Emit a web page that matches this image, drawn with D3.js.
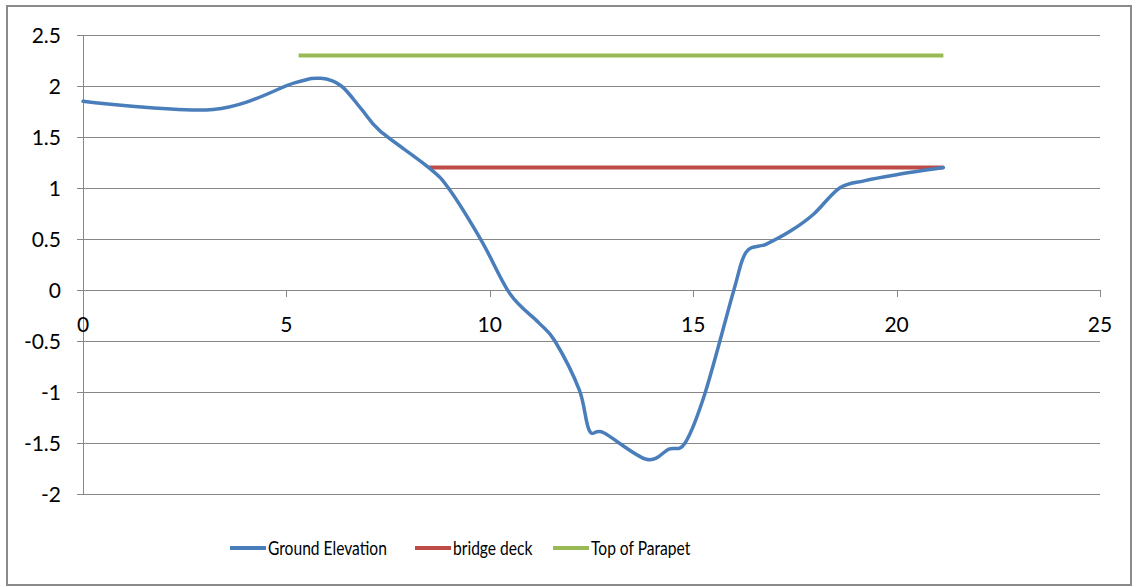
<!DOCTYPE html>
<html>
<head>
<meta charset="utf-8">
<script src="https://cdn.jsdelivr.net/npm/d3@7"></script>
<style>
  html, body { margin: 0; padding: 0; background: #fff; }
  svg text { font-family: Lato, "Open Sans", sans-serif; fill: #000; }
</style>
</head>
<body>
<svg id="chart" width="1139" height="587"></svg>
<script>
// Cross-section survey: distance along section vs elevation
const groundX = [0, 3.2, 5.2, 5.85, 6.35, 6.85, 7.3, 8.5, 9.0, 9.8, 10.5, 11.2, 11.6, 12.2, 12.45, 12.8, 13.85, 14.4, 14.8, 15.3, 16.0, 16.3, 16.8, 17.4, 17.95, 18.6, 19.2, 20.0, 21.15];
const groundY = [1.85, 1.77, 2.03, 2.075, 2.0, 1.77, 1.56, 1.2, 0.99, 0.48, -0.04, -0.32, -0.5, -0.98, -1.38, -1.40, -1.66, -1.56, -1.5, -1.0, 0.0, 0.37, 0.45, 0.58, 0.74, 1.0, 1.07, 1.13, 1.2];
const deckX = [8.5, 21.15];
const deckY = [1.2, 1.2];
const parapetX = [5.3, 21.15];
const parapetY = [2.3, 2.3];

const seriesNames = ["Ground Elevation", "bridge deck", "Top of Parapet"];
const seriesColors = ["#4a7ebb", "#be4b48", "#98b954"];

const xTicks = [0, 5, 10, 15, 20, 25];
const yTicks = [-2, -1.5, -1, -0.5, 0, 0.5, 1, 1.5, 2, 2.5];

const svg = d3.select("#chart");
const W = 1139, H = 587;

// outer chart frame
svg.append("rect")
  .attr("x", 7).attr("y", 6).attr("width", W - 9 - 6).attr("height", H - 8)
  .attr("fill", "#fff").attr("stroke", "#8a8a8a").attr("stroke-width", 2);

const x = d3.scaleLinear().domain([0, 25]).range([83, 1100]);
const y = d3.scaleLinear().domain([-2, 2.5]).range([494, 35]);

// horizontal gridlines (with small outward tick on the value axis)
svg.append("g").selectAll("line").data(yTicks).join("line")
  .attr("x1", x(0) - 6).attr("x2", x(25))
  .attr("y1", d => Math.round(y(d)) + 0.5).attr("y2", d => Math.round(y(d)) + 0.5)
  .attr("stroke", "#878787").attr("stroke-width", 1);

// vertical value axis line
svg.append("line")
  .attr("x1", Math.round(x(0)) + 0.5).attr("x2", Math.round(x(0)) + 0.5)
  .attr("y1", y(2.5)).attr("y2", y(-2))
  .attr("stroke", "#878787");

// category axis ticks hang below the zero line
svg.append("g").selectAll("line").data(xTicks).join("line")
  .attr("x1", d => Math.round(x(d)) + 0.5).attr("x2", d => Math.round(x(d)) + 0.5)
  .attr("y1", y(0)).attr("y2", y(0) + 7)
  .attr("stroke", "#878787");

// y tick labels
svg.append("g").selectAll("text").data(yTicks).join("text")
  .attr("x", 61).attr("y", d => y(d) + 7.5)
  .attr("text-anchor", "end")
  .attr("font-size", 21)
  .text(d => String(d));

// x tick labels
svg.append("g").selectAll("text").data(xTicks).join("text")
  .attr("x", d => x(d)).attr("y", y(0) + 42)
  .attr("text-anchor", "middle")
  .attr("font-size", 21)
  .text(d => String(d));

const line = d3.line()
  .x(d => x(d[0])).y(d => y(d[1]))
  .curve(d3.curveCardinal.tension(0));

const straight = d3.line().x(d => x(d[0])).y(d => y(d[1]));

svg.append("path")
  .datum(parapetX.map((v, i) => [v, parapetY[i]]))
  .attr("d", straight)
  .attr("fill", "none").attr("stroke", seriesColors[2]).attr("stroke-width", 4);

svg.append("path")
  .datum(deckX.map((v, i) => [v, deckY[i]]))
  .attr("d", straight)
  .attr("fill", "none").attr("stroke", seriesColors[1]).attr("stroke-width", 4);

svg.append("path")
  .datum(groundX.map((v, i) => [v, groundY[i]]))
  .attr("d", line)
  .attr("fill", "none").attr("stroke", seriesColors[0]).attr("stroke-width", 3.5)
  .attr("stroke-linejoin", "round").attr("stroke-linecap", "round");

// legend
const legendStarts = [230, 415, 553];
const leg = svg.append("g").selectAll("g").data(seriesNames).join("g")
  .attr("transform", (d, i) => `translate(${legendStarts[i]},548)`);
leg.append("line")
  .attr("x1", 0).attr("x2", 36).attr("y1", 0).attr("y2", 0)
  .attr("stroke", (d, i) => seriesColors[i]).attr("stroke-width", 4);
leg.append("text")
  .attr("transform", "translate(38,7) scale(0.78,1)")
  .attr("font-size", 20)
  .text(d => d);
</script>
</body>
</html>
